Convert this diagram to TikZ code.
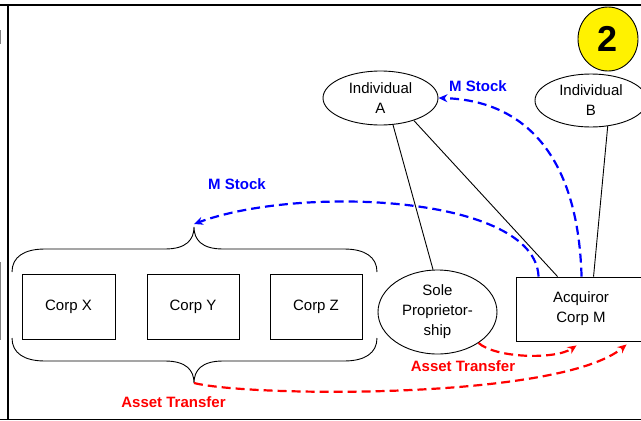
\documentclass[tikz,border=0pt]{standalone}
\usepackage{fontspec}
\setmainfont{Liberation Sans}
\usetikzlibrary{shapes.geometric,arrows.meta,calc}
\begin{document}
\begin{tikzpicture}[x=1pt,y=-1pt,
  every node/.style={font=\fontsize{15}{20}\selectfont, text=black},
  oval/.style={draw, ellipse, line width=0.9pt, inner sep=0pt, align=center},
  box/.style={draw, rectangle, line width=0.9pt, inner sep=0pt, align=center},
  tie/.style={line width=0.9pt},
  brace/.style={line width=0.9pt},
  flow/.style={line width=2.2pt, dash pattern=on 9pt off 5pt,
    -{Stealth[length=9pt,width=8pt]}},
  stockflow/.style={flow, blue},
  assetflow/.style={flow, red},
  lbl/.style={font=\fontsize{15}{18}\selectfont\bfseries, text=#1, inner sep=0pt}
]
\useasboundingbox (0,0) rectangle (641,421);
\clip (0,0) rectangle (641,421);

% frame of the panel
\draw[line width=2pt] (0,5) -- (641,5);
\draw[line width=2pt] (8,5) -- (8,420);
\draw[line width=1.5pt] (0,419.5) -- (641,419.5);
\draw[gray, line width=1pt] (0.5,30) -- (0.5,44);
\draw[gray, line width=1pt] (0.5,262) -- (0.5,340);

% step number badge
\node[draw, ellipse, fill=yellow, line width=0.9pt, minimum width=60pt,
      minimum height=64pt, inner sep=0pt,
      font=\fontsize{36}{36}\selectfont\bfseries] (badge) at (608,39) {2};

% shareholders
\node[oval, minimum width=115pt, minimum height=54pt] (indA) at (380.5,98) {Individual\\A};
\node[oval, minimum width=112pt, minimum height=53pt] (indB) at (591,100.5) {Individual\\B};

% business entities
\node[oval, minimum width=119pt, minimum height=84pt] (sole) at (437.5,312) {Sole\\Proprietor-\\ship};
\node[box, minimum width=130pt, minimum height=64pt] (acq) at (581,309) {Acquiror\\Corp M};
\node[box, minimum width=93pt, minimum height=65pt] (cx) at (68.5,306.5) {Corp X};
\node[box, minimum width=92pt, minimum height=65pt] (cy) at (193,306.5) {Corp Y};
\node[box, minimum width=92pt, minimum height=65pt] (cz) at (316,306.5) {Corp Z};

% braces grouping the target corporations
\coordinate (braceTop) at (194,227);
\coordinate (braceBot) at (194,383);
\draw[brace] (12,272) .. controls (12,257) and (24,249) .. (45,249) -- (165,249)
  .. controls (186,249) and (194,240) .. (braceTop)
  .. controls (194,240) and (202,249) .. (223,249) -- (344,249)
  .. controls (365,249) and (377,257) .. (377,272);
\draw[brace] (12,338) .. controls (12,353) and (24,361) .. (45,361) -- (165,361)
  .. controls (186,361) and (194,370) .. (braceBot)
  .. controls (194,370) and (202,361) .. (223,361) -- (344,361)
  .. controls (365,361) and (377,353) .. (377,338);

% ownership lines
\draw[tie] (indA.-65) -- (sole.96);
\draw[tie] (indA.-34) -- ([xshift=42pt]acq.north west);
\draw[tie] (indB.-57) -- ([xshift=78pt]acq.north west);

% stock flows
\draw[stockflow] ([xshift=23pt]acq.north west) .. controls (535,195) and (300,185) .. ([yshift=3pt]braceTop);
\draw[stockflow] ([xshift=66pt]acq.north west) .. controls (578,150) and (520,100) .. (indA.east);
\node[lbl=blue] (ms1) at (478,86) {M Stock};
\node[lbl=blue] (ms2) at (237,184) {M Stock};

% asset flows
\draw[assetflow] (sole.-37) .. controls (495,358) and (555,360) .. ([xshift=61pt,yshift=-4pt]acq.south west);
\draw[assetflow] (braceBot) .. controls (250,397) and (560,400) .. ([xshift=111pt,yshift=-3pt]acq.south west);
\node[lbl=red] (at1) at (463,366) {Asset Transfer};
\node[lbl=red] (at2) at (173.5,402) {Asset Transfer};
\end{tikzpicture}
\end{document}
